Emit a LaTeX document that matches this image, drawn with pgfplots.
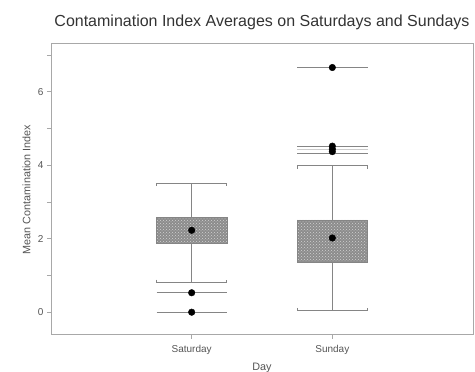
\documentclass[border=0pt]{standalone}
\usepackage{pgfplots}
\pgfplotsset{compat=1.18}
\usepackage{fontspec}
\setmainfont{Liberation Sans}
\usetikzlibrary{patterns}

\definecolor{framegray}{HTML}{A8A8A8}
\definecolor{boxfill}{HTML}{8C8C8C}
\definecolor{wgray}{HTML}{858585}
\definecolor{txtgray}{HTML}{555555}

\begin{document}
\begin{tikzpicture}
\begin{axis}[
  scale only axis, width=422pt, height=291pt,
  xmin=0, xmax=3, ymin=-0.62, ymax=7.3,
  xtick={1,2}, xticklabels={Saturday,Sunday},
  ytick={0,2,4,6}, minor ytick={1,3,5,7},
  tick pos=left, tick align=outside,
  major tick length=4pt, minor tick length=4pt,
  axis line style={framegray, line width=1pt},
  every tick/.style={framegray, line width=0.8pt},
  /pgf/number format/assume math mode=true,
  tick label style={font=\fontsize{10}{12}\selectfont, color=txtgray},
  xticklabel style={yshift=-3pt},
  title={Contamination Index Averages on Saturdays and Sundays},
  title style={font=\fontsize{16}{18}\selectfont, color=black!80,
    at={(axis description cs:0.5,1)}, anchor=base, yshift=11pt},
  xlabel={Day}, ylabel={Mean Contamination Index},
  label style={font=\fontsize{10.8}{13}\selectfont, color=txtgray},
  xlabel style={at={(axis description cs:0.5,-0.113)}, anchor=center},
  ylabel style={at={(axis description cs:-0.058,0.5)}, anchor=center},
  whisk/.style={draw=wgray, line width=0.9pt, mark=none},
  boxst/.style={draw=wgray, line width=0.6pt, fill=boxfill,
    postaction={pattern=crosshatch dots, pattern color=gray!35}},
  dot/.style={only marks, mark=*, mark size=3.3pt, black},
]
% Saturday
\addplot[whisk] coordinates {(1,0.81) (1,3.51)};
\addplot[whisk] coordinates {(0.75,3.43) (0.75,3.51) (1.25,3.51) (1.25,3.43)};
\addplot[whisk] coordinates {(0.75,0.89) (0.75,0.81) (1.25,0.81) (1.25,0.89)};
\addplot[boxst] coordinates {(0.75,1.87) (1.25,1.87) (1.25,2.59) (0.75,2.59)} -- cycle;
\addplot[whisk] coordinates {(0.75,0.53) (1.25,0.53)};
\addplot[whisk] coordinates {(0.75,0.0) (1.25,0.0)};
\addplot[dot] coordinates {(1,2.23) (1,0.53) (1,0.0)};
% Sunday
\addplot[whisk] coordinates {(2,0.04) (2,3.99)};
\addplot[whisk] coordinates {(1.75,3.91) (1.75,3.99) (2.25,3.99) (2.25,3.91)};
\addplot[whisk] coordinates {(1.75,0.12) (1.75,0.04) (2.25,0.04) (2.25,0.12)};
\addplot[boxst] coordinates {(1.75,1.35) (2.25,1.35) (2.25,2.51) (1.75,2.51)} -- cycle;
\addplot[whisk] coordinates {(1.75,6.66) (2.25,6.66)};
\addplot[whisk] coordinates {(1.75,4.52) (2.25,4.52)};
\addplot[whisk, draw=gray!40] coordinates {(1.75,4.44) (2.25,4.44)};
\addplot[whisk] coordinates {(1.75,4.33) (2.25,4.33)};
\addplot[dot] coordinates {(2,2.02) (2,6.66) (2,4.52) (2,4.44) (2,4.37)};
\end{axis}
\pgfresetboundingbox
\path ([shift={(-51pt,-37pt)}]current axis.south west) rectangle ([shift={(2pt,44pt)}]current axis.north east);
\end{tikzpicture}
\end{document}
